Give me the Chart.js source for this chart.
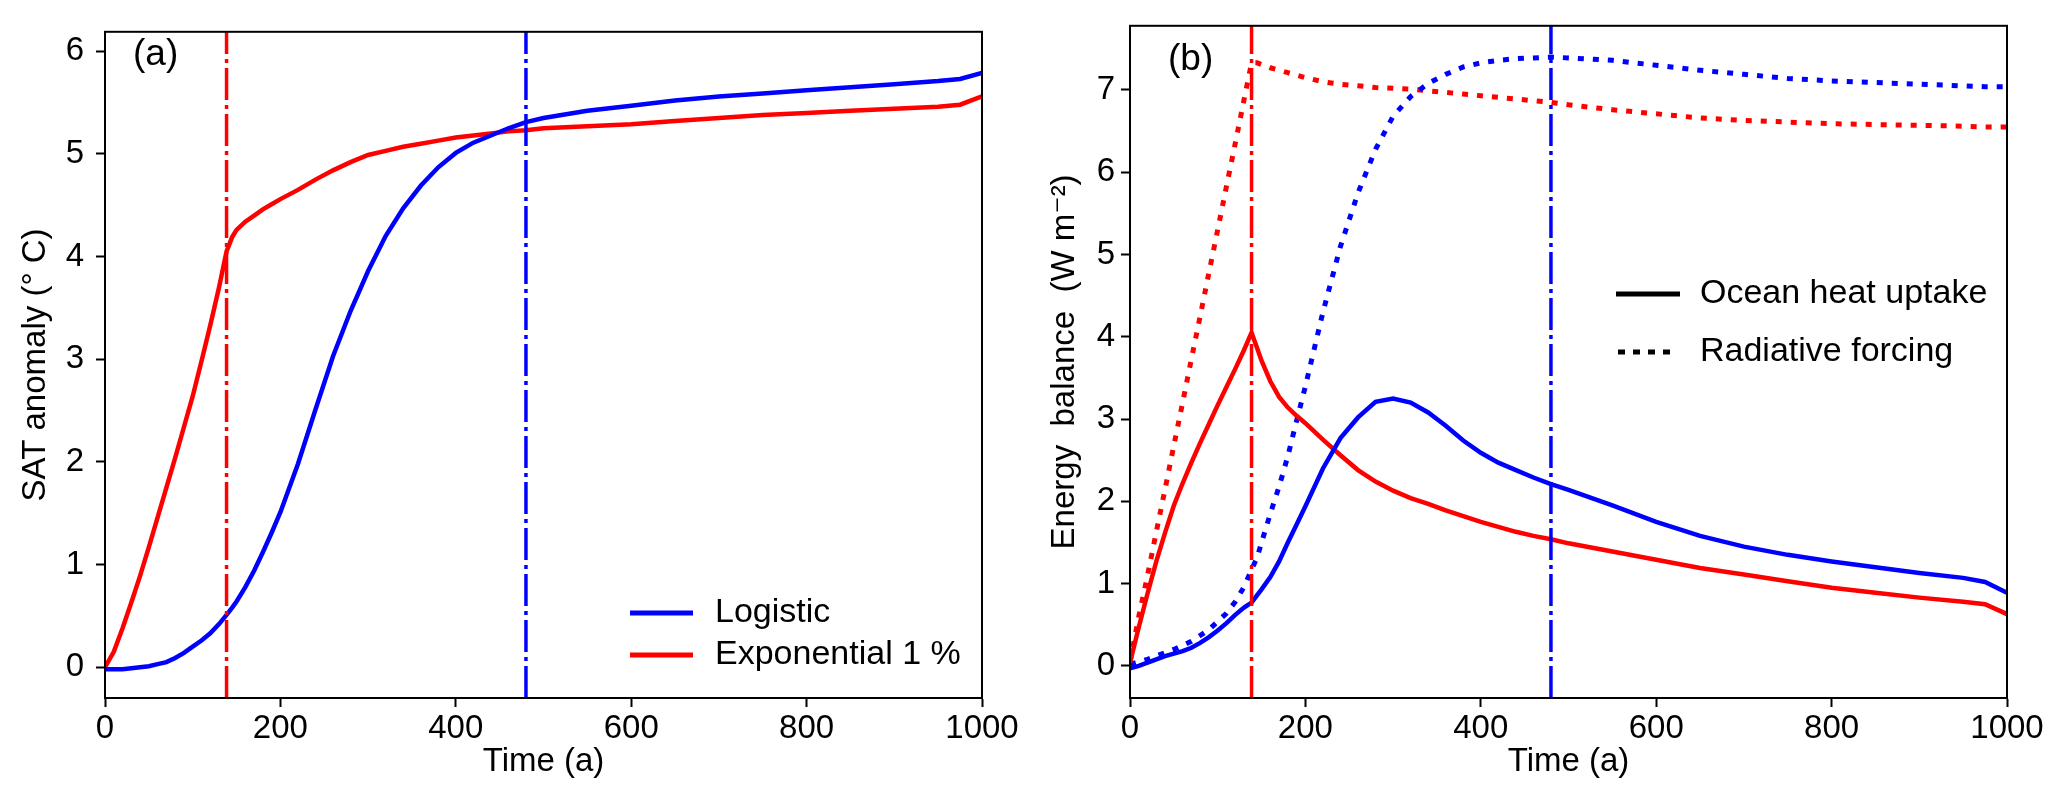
<!DOCTYPE html>
<html>
<head>
<meta charset="utf-8">
<title>SAT anomaly and energy balance</title>
<script src="https://cdn.jsdelivr.net/npm/chart.js@4.4.1/dist/chart.umd.min.js"></script>
<style>
    body { margin: 0; background: #fff; }
    #wrap { position: relative; width: 2067px; height: 807px; }
    canvas { position: absolute; top: 0; }
</style>
</head>
<body>
<div id="wrap">
    <canvas id="chartA" width="1030" height="807" style="left:0px"></canvas>
    <canvas id="chartB" width="1037" height="807" style="left:1030px"></canvas>
</div>
<script>
// time axis (years) shared by every curve
var years = [0, 10, 20, 30, 40, 50, 60, 70, 80, 90, 100, 110, 120, 130, 138.6, 145, 150, 160, 170, 180, 190, 200,
    220, 240, 260, 280, 300, 320, 340, 360, 380, 400, 420, 440, 460, 480, 500, 550, 600, 650, 700, 750, 800, 850, 900, 950, 975, 1000];

// (a) SAT anomaly
var satLogistic = [-0.02, -0.02, -0.02, -0.01, 0.00, 0.01, 0.03, 0.05, 0.09, 0.14, 0.20, 0.26, 0.33, 0.42, 0.51, 0.58, 0.64, 0.78, 0.94, 1.12, 1.31, 1.51,
    1.98, 2.51, 3.03, 3.47, 3.86, 4.20, 4.47, 4.69, 4.87, 5.01, 5.11, 5.18, 5.25, 5.31, 5.35, 5.42, 5.47, 5.52, 5.56, 5.59, 5.62, 5.65, 5.68, 5.71, 5.73, 5.79];
var satExponential = [0.00, 0.15, 0.38, 0.63, 0.89, 1.17, 1.46, 1.75, 2.04, 2.34, 2.64, 2.98, 3.33, 3.70, 4.05, 4.19, 4.26, 4.34, 4.40, 4.46, 4.51, 4.56,
    4.65, 4.75, 4.84, 4.92, 4.99, 5.03, 5.07, 5.10, 5.13, 5.16, 5.18, 5.20, 5.22, 5.23, 5.25, 5.27, 5.29, 5.32, 5.35, 5.38, 5.40, 5.42, 5.44, 5.46, 5.48, 5.56];

// (b) energy balance: ocean heat uptake (solid) and radiative forcing (dotted)
var heatUptakeLogistic = [-0.03, 0.00, 0.04, 0.08, 0.12, 0.15, 0.18, 0.22, 0.28, 0.35, 0.43, 0.52, 0.62, 0.71, 0.77, 0.86, 0.93, 1.08, 1.27, 1.50, 1.72, 1.94,
    2.40, 2.77, 3.02, 3.21, 3.25, 3.20, 3.08, 2.92, 2.74, 2.59, 2.47, 2.38, 2.29, 2.21, 2.14, 1.95, 1.75, 1.58, 1.45, 1.35, 1.27, 1.20, 1.13, 1.07, 1.02, 0.89];
var heatUptakeExponential = [0.04, 0.47, 0.88, 1.27, 1.62, 1.95, 2.22, 2.47, 2.71, 2.94, 3.17, 3.39, 3.61, 3.84, 4.05, 3.86, 3.71, 3.46, 3.27, 3.14, 3.04, 2.95,
    2.75, 2.56, 2.38, 2.24, 2.13, 2.04, 1.97, 1.89, 1.82, 1.75, 1.69, 1.63, 1.58, 1.54, 1.49, 1.39, 1.29, 1.19, 1.11, 1.03, 0.95, 0.89, 0.83, 0.78, 0.75, 0.63];
var forcingLogistic = [0.02, 0.05, 0.08, 0.12, 0.16, 0.20, 0.25, 0.30, 0.37, 0.44, 0.54, 0.64, 0.78, 0.96, 1.17, 1.32, 1.50, 1.85, 2.18, 2.55, 2.98, 3.40,
    4.30, 5.10, 5.75, 6.28, 6.68, 6.92, 7.08, 7.19, 7.28, 7.33, 7.36, 7.38, 7.39, 7.40, 7.39, 7.36, 7.30, 7.24, 7.19, 7.14, 7.11, 7.09, 7.07, 7.05, 7.04, 7.04];
var forcingExponential = [0.05, 0.60, 1.10, 1.63, 2.15, 2.68, 3.20, 3.73, 4.25, 4.78, 5.30, 5.83, 6.35, 6.88, 7.33, 7.33, 7.31, 7.27, 7.24, 7.21, 7.18, 7.15,
    7.10, 7.07, 7.05, 7.03, 7.02, 7.01, 6.99, 6.97, 6.95, 6.93, 6.91, 6.89, 6.87, 6.85, 6.82, 6.76, 6.71, 6.66, 6.63, 6.61, 6.59, 6.58, 6.57, 6.56, 6.55, 6.55];

// vertical dash-dot markers: end of 1 % ramp (red), logistic midpoint (blue)
var markerExponential = 138.6;
var markerLogistic = 480;

var xTicks = [0, 200, 400, 600, 800, 1000];
var yTicksA = [0, 1, 2, 3, 4, 5, 6];
var yTicksB = [0, 1, 2, 3, 4, 5, 6, 7];
var yRangeA = [-0.3, 6.19];
var yRangeB = [-0.39, 7.78];

var BLUE = '#0000ff';
var RED = '#ff0000';
var FONT = "'Liberation Sans', Arial, 'DejaVu Sans', sans-serif";
var DOTTED = [6, 9];
var DASHDOT = [32, 5, 4, 5];


function toPoints(values) {
    return years.map(function (t, i) { return { x: t, y: values[i] }; });
}

function curve(values, color, dotted) {
    return {
        data: toPoints(values),
        borderColor: color,
        borderWidth: dotted ? 5 : 4.5,
        borderDash: dotted ? DOTTED : [],
        borderCapStyle: 'butt',
        order: 1
    };
}

function marker(x, range, color) {
    return {
        data: [{ x: x, y: range[0] }, { x: x, y: range[1] }],
        borderColor: color,
        borderWidth: 3.5,
        borderDash: DASHDOT,
        order: 0
    };
}

function plainNumber(v) {
    return String(v);
}

function buildScales(yRange, yTicks, yTitle, yWidth, yPad, titlePad) {
    return {
        x: {
            type: 'linear', min: 0, max: 1000,
            afterFit: function (s) { s.height = 109; },
            afterBuildTicks: function (s) { s.ticks = xTicks.map(function (v) { return { value: v }; }); },
            grid: { drawOnChartArea: false, tickLength: 9, tickWidth: 2, tickColor: '#000' },
            border: { color: '#000', width: 2 },
            ticks: { color: '#000', font: { family: FONT, size: 33 }, padding: 2, maxRotation: 0, callback: plainNumber },
            title: { display: true, text: 'Time (a)', color: '#000', font: { family: FONT, size: 33 }, padding: { top: 0, bottom: 25 } }
        },
        y: {
            type: 'linear', min: yRange[0], max: yRange[1],
            afterFit: function (s) { s.width = yWidth; },
            afterBuildTicks: function (s) { s.ticks = yTicks.map(function (v) { return { value: v }; }); },
            grid: { drawOnChartArea: false, tickLength: 9, tickWidth: 2, tickColor: '#000' },
            border: { color: '#000', width: 2 },
            ticks: { color: '#000', font: { family: FONT, size: 33 }, padding: yPad, callback: plainNumber },
            title: { display: true, text: yTitle, color: '#000', font: { family: FONT, size: 33 }, padding: { top: titlePad, bottom: 0 } }
        }
    };
}

// frame, panel letter and in-plot legend
var decor = {
    chartA: {
        label: '(a)', labelX: 133, labelY: 55,
        lineX: [630, 693], textX: 715, rows: [613, 655],
        legend: [
            { text: 'Logistic', color: BLUE, dash: [] },
            { text: 'Exponential 1 %', color: RED, dash: [] }
        ]
    },
    chartB: {
        label: '(b)', labelX: 138, labelY: 60,
        lineX: [586, 650], textX: 670, rows: [294, 352],
        legend: [
            { text: 'Ocean heat uptake', color: '#000', dash: [] },
            { text: 'Radiative forcing', color: '#000', dash: [7, 8], x0: 588, x1: 641 }
        ]
    }
};

var decorPlugin = {
    id: 'decor',
    afterDraw: function (chart) {
        var d = decor[chart.canvas.id];
        var a = chart.chartArea;
        var ctx = chart.ctx;
        ctx.save();
        ctx.strokeStyle = '#000';
        ctx.lineWidth = 2;
        ctx.setLineDash([]);
        ctx.strokeRect(a.left, a.top, a.right - a.left, a.bottom - a.top);

        ctx.fillStyle = '#000';
        ctx.textBaseline = 'middle';
        ctx.textAlign = 'left';
        ctx.font = '37px ' + FONT;
        ctx.fillText(d.label, d.labelX, d.labelY);

        ctx.font = '34px ' + FONT;
        d.legend.forEach(function (item, i) {
            var y = d.rows[i];
            ctx.beginPath();
            ctx.strokeStyle = item.color;
            ctx.lineWidth = 5;
            ctx.lineCap = 'butt';
            ctx.setLineDash(item.dash);
            ctx.moveTo(item.x0 || d.lineX[0], y);
            ctx.lineTo(item.x1 || d.lineX[1], y);
            ctx.stroke();
            ctx.fillText(item.text, d.textX, y);
        });
        ctx.restore();
    }
};

var commonOptions = {
    responsive: false,
    animation: false,
    devicePixelRatio: 1,
    elements: { point: { radius: 0 }, line: { tension: 0, fill: false } },
    plugins: { legend: { display: false }, tooltip: { enabled: false } }
};

function makeOptions(scales, padRight) {
    var o = Object.assign({}, commonOptions);
    o.scales = scales;
    o.layout = { padding: { top: 21, right: padRight, left: 0, bottom: 0 } };
    return o;
}

new Chart(document.getElementById('chartA').getContext('2d'), {
    type: 'line',
    data: {
        datasets: [
            marker(markerExponential, yRangeA, RED),
            marker(markerLogistic, yRangeA, BLUE),
            curve(satLogistic, BLUE, false),
            curve(satExponential, RED, false)
        ]
    },
    options: makeOptions(buildScales(yRangeA, yTicksA, 'SAT anomaly (° C)', 105, 12, 16), 48),
    plugins: [decorPlugin]
});

new Chart(document.getElementById('chartB').getContext('2d'), {
    type: 'line',
    data: {
        datasets: [
            marker(markerExponential, yRangeB, RED),
            marker(markerLogistic, yRangeB, BLUE),
            curve(heatUptakeLogistic, BLUE, false),
            curve(heatUptakeExponential, RED, false),
            curve(forcingLogistic, BLUE, true),
            curve(forcingExponential, RED, true)
        ]
    },
    options: makeOptions(buildScales(yRangeB, yTicksB, 'Energy  balance  (W m\u207B\u00B2)', 100, 6, 15), 60),
    plugins: [decorPlugin]
});
</script>
</body>
</html>
